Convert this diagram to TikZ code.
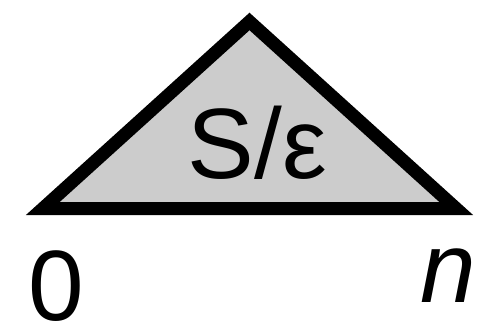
\documentclass[tikz,border=0pt]{standalone}
\usepackage{fontspec}
\setmainfont{Liberation Sans}
\begin{document}
\begin{tikzpicture}[x=1pt,y=1pt,
  tri/.style={draw=black,fill=triFill,line width=13pt,line join=miter},
  bigtext/.style={inner sep=0pt,anchor=base,font=\fontsize{100}{100}\selectfont}]
\definecolor{triFill}{HTML}{CCCCCC}
\useasboundingbox (0,0) rectangle (495,322);
\coordinate (L) at (42.8,113.5);
\coordinate (R) at (456.2,113.5);
\coordinate (T) at (249.5,300.5);
\draw[tri] (L) -- (T) -- (R) -- cycle;
\node[bigtext] (lab) at (257.5,144) {S/ε};
\node[bigtext] (zero) at (56,1.5) {0};
\node[bigtext] (n) at (448,20) {\itshape n};
\end{tikzpicture}
\end{document}
